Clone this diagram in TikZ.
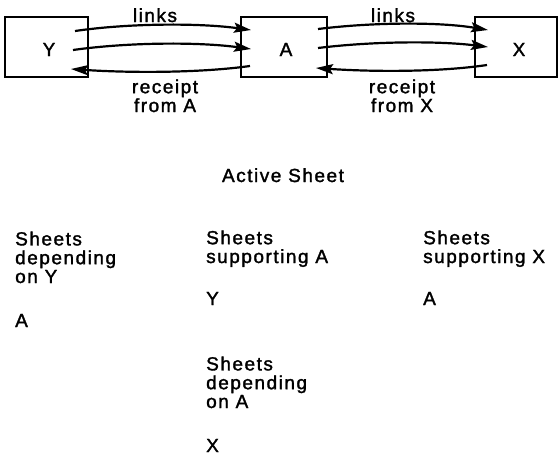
\documentclass[tikz,border=0pt]{standalone}
\usepackage{fontspec}
\setmainfont{Liberation Sans}[LetterSpace=8,FakeBold=1.6]
\usetikzlibrary{arrows.meta}
\begin{document}
\begin{tikzpicture}[x=1pt,y=-1pt,
  every node/.style={font=\fontsize{19}{18.8}\selectfont, inner sep=0pt},
  sheetbox/.style={draw, line width=1.8pt},
  boxlabel/.style={anchor=base},
  txt/.style={anchor=base west, align=left},
  ctxt/.style={anchor=base, align=center},
  link/.style={line width=2.2pt, -{Stealth[length=17pt,width=10pt,inset=3pt]}}]
\useasboundingbox (0,0) rectangle (558,456);
% boxes
\draw[sheetbox] (5,17) rectangle (88,77);
\draw[sheetbox] (241,17) rectangle (327,77);
\draw[sheetbox] (475,17) -- (557,17) -- (557,77) -- (475,77) -- cycle;
\node[boxlabel] (Y) at (49,56) {Y};
\node[boxlabel] (A) at (286,56) {A};
\node[boxlabel] (X) at (519,56) {X};
% end points of links
\coordinate (ya1) at (75,31);  \coordinate (ay1) at (251,30);
\coordinate (ya2) at (73,50);  \coordinate (ay2) at (251,49);
\coordinate (ay3) at (250,66); \coordinate (ya3) at (71,69);
\coordinate (ax1) at (318,29); \coordinate (xa1) at (488,30);
\coordinate (ax2) at (318,48); \coordinate (xa2) at (488,47);
\coordinate (xa3) at (487,65); \coordinate (ax3) at (316,68);
\draw[link] (ya1) .. controls (130,23) and (200,23) .. (ay1);
\draw[link] (ya2) .. controls (130,42) and (200,42) .. (ay2);
\draw[link] (ay3) .. controls (200,73) and (130,73) .. (ya3);
\draw[link] (ax1) .. controls (375,22) and (440,22) .. (xa1);
\draw[link] (ax2) .. controls (375,41) and (440,41) .. (xa2);
\draw[link] (xa3) .. controls (440,72) and (375,72) .. (ax3);
% link labels
\node[ctxt] (l1) at (155,22) {links};
\node[ctxt] (l2) at (393,22) {links};
\node[ctxt] (r1) at (165,112) {receipt\\from A};
\node[ctxt] (r2) at (402,112) {receipt\\from X};
% lower text
\node[ctxt] (act) at (283,182) {Active Sheet};
\node[txt] (c1) at (15,283) {Sheets\\depending\\on Y};
\node[txt] (c1a) at (15,327) {A};
\node[txt] (c2) at (206,263) {Sheets\\supporting A};
\node[txt] (c2a) at (206,305) {Y};
\node[txt] (c3) at (423,263) {Sheets\\supporting X};
\node[txt] (c3a) at (423,305) {A};
\node[txt] (c4) at (206,408) {Sheets\\depending\\on A};
\node[txt] (c4a) at (206,452) {X};
\end{tikzpicture}
\end{document}
